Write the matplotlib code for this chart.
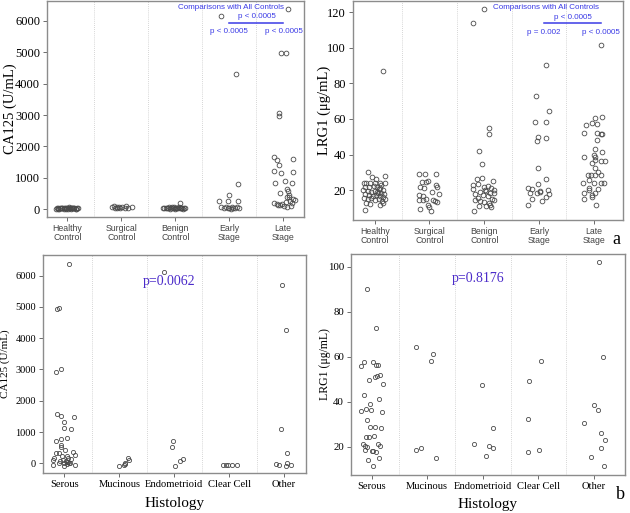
import matplotlib.pyplot as plt

plt.rcParams['font.family'] = 'Liberation Serif'

# ---------------- top-left: CA125 by group ----------------
groups = ['Healthy\nControl', 'Surgical\nControl', 'Benign\nControl', 'Early\nStage', 'Late\nStage']

ca_healthy = [20, 35, 50, 15, 40, 25, 55, 30, 10, 45, 20, 35, 60, 25, 15, 40, 30, 50, 20, 10, 35, 45, 25, 55, 15, 30, 40, 20, 50, 35]
ca_healthy_dx = [-0.22, -0.2, -0.17, -0.16, -0.13, -0.12, -0.1, -0.07, -0.06, -0.03, -0.02, 0.0, 0.03, 0.04, 0.06, 0.09, 0.1, 0.12, 0.15, 0.16, 0.18, 0.2, -0.11, -0.05, 0.01, 0.07, 0.13, -0.18, 0.02, 0.08]
ca_surgical = [60, 40, 70, 45, 65, 40, 90, 70, 100, 80, 35, 30]
ca_surgical_dx = [-0.17, -0.12, -0.08, -0.03, 0.02, 0.06, 0.09, 0.19, -0.14, -0.05, 0.13, -0.09]
ca_benign = [40, 25, 55, 30, 60, 20, 45, 35, 70, 15, 50, 30, 40, 65, 25, 55, 35, 20, 45, 190, 30, 50, 60, 40, 25]
ca_benign_dx = [-0.22, -0.2, -0.17, -0.15, -0.12, -0.1, -0.08, -0.05, -0.03, -0.01, 0.01, 0.03, 0.05, 0.07, 0.09, 0.11, 0.13, 0.15, 0.17, 0.08, 0.19, -0.13, -0.06, 0.0, 0.1]
ca_early = [6160, 4300, 800, 440, 270, 250, 250, 60, 40, 70, 30, 50, 20, 80, 45, 35, 65, 25]
ca_early_dx = [-0.15, 0.13, 0.16, -0.01, -0.19, -0.03, 0.17, -0.16, -0.1, -0.06, -0.02, 0.0, 0.03, 0.05, 0.08, 0.11, 0.14, 0.19]
ca_late = [6370, 4960, 4990, 3080, 2980, 1650, 1570, 1590, 1400, 1230, 1170, 1190, 900, 830, 850, 650, 580, 530, 450, 400, 380, 320, 300, 260, 210, 240, 190, 170, 170, 130, 120, 85, 110, 150]
ca_late_dx = [0.1, -0.04, 0.05, -0.08, -0.08, -0.16, -0.11, 0.18, -0.07, -0.17, -0.03, 0.19, 0.03, -0.14, 0.17, 0.08, 0.09, -0.06, 0.11, 0.07, 0.12, 0.18, 0.22, 0.13, 0.17, 0.06, -0.17, -0.12, -0.02, -0.06, 0.02, 0.07, 0.15, -0.1]

# ---------------- top-right: LRG1 by group ----------------
lr_healthy = [87.2, 30.3, 27.1, 28.0, 26.0, 24.1, 23.7, 24.1, 23.7, 24.1, 22.8, 23.7, 21.8, 21.5, 22.2, 21.5, 20.9, 20.3, 20.0, 19.6, 19.0, 19.6, 18.5, 18.1, 17.7, 17.7, 17.1, 16.6, 17.0, 16.6, 16.2, 15.3, 14.7, 15.3, 14.3, 14.9, 14.0, 14.7, 12.5, 12.1, 11.5, 12.5, 8.5, 18.8, 20.6]
lr_healthy_dx = [0.16, -0.13, -0.05, 0.18, 0.02, -0.2, -0.15, -0.09, 0.01, 0.09, 0.12, 0.18, -0.17, -0.1, -0.02, 0.05, 0.1, 0.15, -0.22, -0.13, -0.06, 0.01, 0.06, 0.12, 0.17, -0.18, -0.11, -0.04, 0.02, 0.1, 0.15, -0.2, -0.13, -0.06, 0.0, 0.07, 0.13, 0.18, -0.16, -0.09, 0.1, 0.15, -0.18, 0.04, 0.08]
lr_surgical = [28.8, 29.0, 29.0, 24.3, 24.7, 25.0, 22.8, 21.8, 21.5, 20.9, 19.0, 17.7, 17.1, 16.6, 14.3, 14.3, 14.3, 13.8, 13.4, 14.7, 11.5, 10.2, 9.6, 8.3]
lr_surgical_dx = [-0.2, -0.09, 0.12, -0.13, -0.06, -0.03, 0.12, 0.13, -0.18, -0.1, 0.05, 0.17, -0.2, -0.11, -0.19, -0.12, 0.06, 0.1, 0.13, -0.06, -0.03, 0.0, -0.18, 0.03]
lr_benign = [122.0, 113.8, 55.1, 51.4, 42.2, 34.8, 26.4, 26.8, 25.1, 22.8, 23.4, 21.5, 22.2, 20.9, 20.0, 20.4, 19.1, 20.0, 19.6, 18.5, 17.7, 17.2, 18.1, 16.6, 15.3, 14.4, 14.0, 13.4, 12.5, 11.5, 11.0, 11.0, 10.6, 8.4, 14.4, 15.1]
lr_benign_dx = [-0.01, -0.2, 0.085, 0.085, -0.1, -0.05, -0.13, -0.04, 0.16, -0.21, -0.12, 0.0, 0.06, 0.12, 0.18, -0.2, -0.085, 0.01, 0.04, 0.11, -0.17, -0.03, 0.18, 0.06, -0.12, -0.16, -0.07, 0.0, 0.085, 0.11, 0.03, -0.09, 0.13, -0.18, 0.18, 0.14]
lr_early = [90.3, 72.9, 64.5, 58.3, 58.1, 50.0, 49.3, 47.4, 32.6, 26.2, 23.6, 21.3, 20.4, 18.1, 18.6, 19.0, 20.0, 17.5, 11.6, 14.9, 14.0, 16.2, 19.6]
lr_early_dx = [0.12, -0.05, 0.18, -0.08, 0.13, -0.02, 0.12, -0.04, -0.02, 0.12, -0.02, -0.2, -0.13, -0.16, -0.03, 0.01, 0.16, 0.18, -0.2, -0.13, 0.06, 0.13, 0.02]
lr_late = [101.8, 61.3, 60.3, 57.9, 56.6, 57.1, 52.3, 51.9, 51.3, 51.3, 48.1, 43.1, 39.5, 38.8, 38.4, 35.4, 36.9, 36.3, 36.5, 41.2, 32.2, 29.9, 28.4, 28.4, 28.4, 25.6, 24.1, 24.1, 24.1, 21.0, 20.6, 19.8, 18.1, 18.5, 17.2, 15.0, 16.2, 11.6, 23.8, 28.4]
lr_late_dx = [0.13, 0.15, 0.03, -0.04, -0.15, 0.055, -0.18, 0.06, 0.13, 0.15, 0.05, 0.02, 0.0, 0.03, -0.17, -0.04, 0.03, 0.13, 0.2, 0.15, 0.02, 0.085, 0.13, -0.1, 0.02, -0.09, 0.14, 0.18, -0.2, -0.08, 0.085, -0.085, -0.18, 0.02, -0.03, -0.18, -0.04, 0.04, 0.0, -0.05]

# ---------------- bottom-left: CA125 by histology ----------------
histology = ['Serous', 'Mucinous', 'Endometrioid', 'Clear Cell', 'Other']

hc_serous = [6375, 4936, 4968, 3028, 2932, 1588, 1514, 1493, 1322, 1141, 1098, 810, 725, 768, 576, 512, 426, 341, 320, 373, 256, 160, 107, 235, 235, 171, 128, 107, 75, 75, 32, 53, 20, 0, 0, -53, -75, -32, -43, 0]
hc_serous_dx = [0.08, -0.13, -0.1, -0.06, -0.15, -0.14, -0.06, 0.17, -0.01, -0.01, 0.12, 0.05, -0.16, -0.07, -0.07, -0.07, 0.01, -0.15, -0.1, 0.16, 0.19, -0.19, -0.21, -0.04, 0.04, 0.07, 0.12, -0.02, -0.08, 0.02, 0.04, 0.06, 0.08, 0.0, -0.1, -0.2, 0.0, 0.05, 0.19, 0.1]
hc_mucinous = [-85, -43, -21, 181, 107, 0]
hc_mucinous_dx = [-0.01, 0.09, 0.11, 0.15, 0.18, 0.1]
hc_endometrioid = [6130, 704, 512, 149, 85, -75]
hc_endometrioid_dx = [-0.19, -0.03, -0.05, 0.15, 0.11, 0.01]
hc_clear = [-43, -48, -53, -50, -50]
hc_clear_dx = [-0.11, -0.05, -0.02, 0.06, 0.14]
hc_other = [5704, 4275, 1087, 320, -21, -53, 0, -85, -43]
hc_other_dx = [-0.03, 0.03, -0.06, 0.05, -0.14, -0.09, 0.06, 0.03, 0.12]

# ---------------- bottom-right: LRG1 by histology ----------------
hl_serous = [90.1, 72.9, 55.9, 57.5, 57.5, 56.4, 56.4, 51.8, 51.5, 51.1, 48.0, 49.6, 42.8, 39.0, 41.2, 36.0, 36.6, 36.3, 35.3, 31.8, 28.6, 28.6, 28.1, 24.9, 24.1, 24.1, 21.2, 20.3, 19.9, 21.2, 20.3, 18.4, 18.1, 18.0, 17.8, 15.0, 14.1, 11.4]
hl_serous_dx = [-0.09, 0.075, -0.19, -0.13, 0.03, 0.08, 0.11, 0.15, 0.09, 0.06, 0.2, -0.04, -0.14, -0.03, 0.14, -0.19, -0.11, -0.02, 0.19, -0.08, -0.03, 0.06, 0.16, 0.05, -0.11, -0.05, -0.16, -0.12, -0.09, 0.11, 0.15, -0.12, 0.0, 0.02, 0.08, 0.14, -0.06, 0.02]
hl_mucinous = [64.4, 61.2, 58.2, 18.7, 19.3, 14.8]
hl_mucinous_dx = [-0.2, 0.1, 0.07, -0.2, -0.12, 0.15]
hl_endometrioid = [47.2, 28.4, 21.2, 20.3, 19.6, 15.9]
hl_endometrioid_dx = [-0.01, 0.18, -0.16, 0.11, 0.18, 0.05]
hl_clear = [49.2, 32.3, 58.1, 17.8, 18.5]
hl_clear_dx = [-0.16, -0.18, 0.05, -0.18, 0.01]
hl_other = [101.8, 60.0, 38.4, 36.3, 30.4, 26.1, 23.1, 19.3, 15.6, 11.4]
hl_other_dx = [0.1, 0.17, 0.0, 0.07, -0.17, 0.13, 0.2, 0.12, -0.06, 0.18]

BLUE = '#3a3ae6'
PURPLE = '#4b2bc9'
EDGE = '#4a4a4a'
FRAME = '#8c8c8c'


def strip(ax, pairs, xlim, ylim, ms, ysize):
    for i, (dx, vals) in enumerate(pairs):
        ax.plot([i + d for d in dx], vals, 'o', ms=ms, mfc='none', mec=EDGE, mew=0.6, zorder=3)
    for s in range(len(pairs) - 1):
        ax.axvline(s + 0.5, color='#c8c8c8', lw=0.6, ls=(0, (1, 1.5)), zorder=1)
    ax.set_xlim(*xlim)
    ax.set_ylim(*ylim)
    ax.set_xticks(range(len(pairs)))
    for sp in ax.spines.values():
        sp.set_color(FRAME)
        sp.set_linewidth(1.0)
    ax.tick_params(axis='both', colors='#555555', length=3, width=0.6, pad=2)
    ax.tick_params(axis='y', labelcolor='black', labelsize=ysize)


def comparisons(ax, left_txt, right_txt):
    t = ax.transAxes
    kw = dict(transform=t, ha='center', color=BLUE, family='Liberation Sans', fontsize=5.8)
    ax.text(0.715, 0.965, 'Comparisons with All Controls', **kw)
    ax.text(0.815, 0.92, 'p < 0.0005', **kw)
    ax.plot([0.707, 0.92], [0.9, 0.9], transform=t, color=BLUE, lw=1.1, clip_on=False)
    ax.text(0.707, 0.85, left_txt, **kw)
    ax.text(0.92, 0.85, right_txt, **kw)


def ylab(ax, text, size, xpos):
    ax.set_ylabel(text, fontsize=size, va='center')
    ax.yaxis.set_label_coords(xpos, 0.5)


fig = plt.figure(figsize=(6.3, 5.13), dpi=100)

ax1 = fig.add_axes([0.0746, 0.577, 0.408, 0.421])
strip(ax1, [(ca_healthy_dx, ca_healthy), (ca_surgical_dx, ca_surgical), (ca_benign_dx, ca_benign),
            (ca_early_dx, ca_early), (ca_late_dx, ca_late)], (-0.38, 4.39), (-246, 6630), 3.4, 9)
ax1.set_yticks(range(0, 6001, 1000))
ax1.set_xticklabels(groups, family='Liberation Sans', fontsize=6.3, color='#444444', linespacing=0.95)
ylab(ax1, 'CA125 (U/mL)', 10.5, -0.144)
comparisons(ax1, 'p < 0.0005', 'p < 0.0005')

ax2 = fig.add_axes([0.560, 0.571, 0.4286, 0.427])
strip(ax2, [(lr_healthy_dx, lr_healthy), (lr_surgical_dx, lr_surgical), (lr_benign_dx, lr_benign),
            (lr_early_dx, lr_early), (lr_late_dx, lr_late)], (-0.40, 4.53), (3.1, 126.4), 3.4, 9)
ax2.set_yticks(range(20, 121, 20))
ax2.set_xticklabels(groups, family='Liberation Sans', fontsize=6.3, color='#444444', linespacing=0.95)
ylab(ax2, 'LRG1 (\u03bcg/mL)', 10.5, -0.104)
comparisons(ax2, 'p = 0.002', 'p < 0.0005')

ax3 = fig.add_axes([0.0683, 0.078, 0.4175, 0.425])
strip(ax3, [(hc_serous_dx, hc_serous), (hc_mucinous_dx, hc_mucinous), (hc_endometrioid_dx, hc_endometrioid),
            (hc_clear_dx, hc_clear), (hc_other_dx, hc_other)], (-0.39, 4.40), (-310, 6660), 3.0, 7.5)
ax3.set_yticks(range(0, 6001, 1000))
ax3.set_xticklabels(histology, fontsize=7.6, color='black')
ylab(ax3, 'CA125 (U/mL)', 8, -0.144)
ax3.set_xlabel('Histology', fontsize=11, va='center')
ax3.xaxis.set_label_coords(0.5, -0.14)
ax3.text(0.48, 0.88, 'p=0.0062', transform=ax3.transAxes, color=PURPLE, fontsize=10, ha='center', va='center')

ax4 = fig.add_axes([0.557, 0.074, 0.435, 0.431])
strip(ax4, [(hl_serous_dx, hl_serous), (hl_mucinous_dx, hl_mucinous), (hl_endometrioid_dx, hl_endometrioid),
            (hl_clear_dx, hl_clear), (hl_other_dx, hl_other)], (-0.374, 4.56), (7.4, 105.6), 3.0, 7.8)
ax4.set_yticks(range(20, 101, 20))
ax4.set_xticklabels(histology, fontsize=7.6, color='black')
ylab(ax4, 'LRG1 (\u03bcg/mL)', 8.5, -0.095)
ax4.set_xlabel('Histology', fontsize=11, va='center')
ax4.xaxis.set_label_coords(0.5, -0.131)
ax4.text(0.464, 0.89, 'p=0.8176', transform=ax4.transAxes, color=PURPLE, fontsize=10, ha='center', va='center')

fig.text(0.972, 0.525, 'a', fontsize=13)
fig.text(0.978, 0.028, 'b', fontsize=13)

fig.savefig('out.png', dpi=100)
